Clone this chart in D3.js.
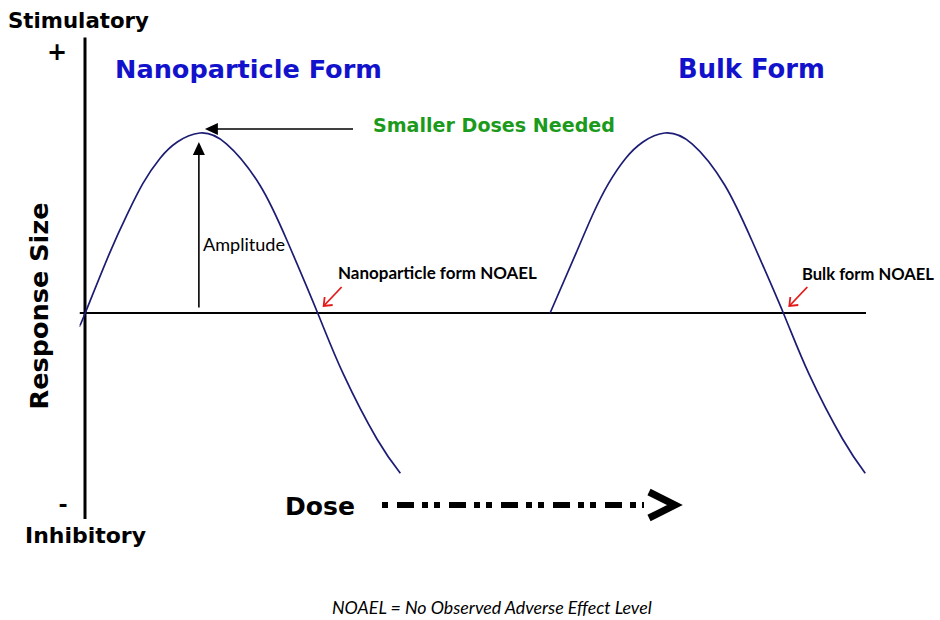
<!DOCTYPE html>
<html>
<head>
<meta charset="utf-8">
<script src="https://cdn.jsdelivr.net/npm/d3@7"></script>
<style>
  html, body { margin: 0; padding: 0; background: #fff; }
  svg { display: block; }
</style>
</head>
<body>
<svg id="chart" width="940" height="620"></svg>
<script>
// ---- Data (dose in arbitrary units, response normalised to amplitude) ----
const nanoDose = [-0.8, -0.1, 3, 5.3, 7.3, 9.5, 11.7, 14.6, 18, 22.3, 25.8, 29.7, 33, 37.3, 40.3];
const nanoResp = [-0.07, 0, 0.33, 0.55, 0.72, 0.86, 0.95, 1.0, 0.94, 0.71, 0.40, 0, -0.34, -0.70, -0.89];
const bulkDose = [59.5, 62.8, 65, 67, 69.2, 71.4, 74.2, 77.7, 81.9, 85.4, 89.4, 92.7, 97, 99.9];
const bulkResp = [0, 0.33, 0.55, 0.72, 0.86, 0.95, 1.0, 0.94, 0.71, 0.40, 0, -0.34, -0.70, -0.89];
const seriesNames = ["Nanoparticle Form", "Bulk Form"];
const noaelLabels = ["Nanoparticle form NOAEL", "Bulk form NOAEL"];
const noaelDose = [29.7, 89.4];
const peakDose = [14.6, 74.2];
const yEndLabels = ["Stimulatory", "Inhibitory"];
const ySigns = ["+", "-"];
const axisTitles = ["Response Size", "Dose"];
const annotations = ["Smaller Doses Needed", "Amplitude"];
const footnote = "NOAEL = No Observed Adverse Effect Level";

// ---- Scales ----
const x = d3.scaleLinear().domain([0, 100]).range([86, 866]);
const y = d3.scaleLinear().domain([-1, 1]).range([493, 133]);

const svg = d3.select("#chart");
svg.append("rect").attr("width", 940).attr("height", 620).attr("fill", "#fff");

const boldFont = "'DejaVu Sans', Verdana, sans-serif";
const lightFont = "Lato, 'Open Sans', sans-serif";

function fit(sel, target) {
  const fs = parseFloat(sel.attr("font-size"));
  const len = sel.node().getComputedTextLength();
  if (len > 0) sel.attr("font-size", (fs * target / len).toFixed(2));
  return sel;
}
function label(txt, px, py, opts) {
  const t = svg.append("text")
    .attr("x", px).attr("y", py)
    .attr("font-family", opts.family || boldFont)
    .attr("font-weight", opts.weight || "bold")
    .attr("font-style", opts.style || "normal")
    .attr("font-size", opts.size || 20)
    .attr("fill", opts.fill || "#000")
    .attr("text-anchor", opts.anchor || "start")
    .text(txt);
  if (opts.width) fit(t, opts.width);
  return t;
}

// ---- Axes lines ----
svg.append("line")
  .attr("x1", x(-0.8)).attr("x2", x(100))
  .attr("y1", y(0)).attr("y2", y(0))
  .attr("stroke", "#000").attr("stroke-width", 2);
svg.append("line")
  .attr("x1", x(0) - 1).attr("x2", x(0) - 1)
  .attr("y1", y(1.53)).attr("y2", y(-1.145))
  .attr("stroke", "#000").attr("stroke-width", 3);

// ---- Curves ----
const line = d3.line()
  .x(d => x(d[0])).y(d => y(d[1]))
  .curve(d3.curveNatural);
const curves = [
  d3.zip(nanoDose, nanoResp),
  d3.zip(bulkDose, bulkResp)
];
svg.selectAll("path.curve").data(curves).enter().append("path")
  .attr("class", "curve")
  .attr("d", line)
  .attr("fill", "none")
  .attr("stroke", "#1c1c74")
  .attr("stroke-width", 1.7);

// ---- Amplitude arrow (vertical) ----
const px0 = x(peakDose[0]) - 1;
svg.append("line")
  .attr("x1", px0).attr("x2", px0)
  .attr("y1", y(0.03)).attr("y2", y(0.93))
  .attr("stroke", "#000").attr("stroke-width", 1.6);
svg.append("path")
  .attr("d", `M${px0},${y(0.95)}L${px0 - 6},${y(0.95) + 13}L${px0 + 6},${y(0.95) + 13}Z`)
  .attr("fill", "#000");

// ---- "Smaller Doses Needed" arrow (horizontal) ----
const hy = y(1.0) - 4;
const hx = x(peakDose[0]) + 5;
svg.append("line")
  .attr("x1", 353).attr("x2", hx + 10)
  .attr("y1", hy).attr("y2", hy)
  .attr("stroke", "#000").attr("stroke-width", 1.6);
svg.append("path")
  .attr("d", `M${hx},${hy}L${hx + 13},${hy - 6}L${hx + 13},${hy + 6}Z`)
  .attr("fill", "#000");

// ---- NOAEL red arrows ----
noaelDose.forEach(d => {
  const tx = x(d) + 6, ty = y(0) - 7;
  svg.append("line")
    .attr("x1", tx + 18).attr("y1", ty - 19)
    .attr("x2", tx).attr("y2", ty)
    .attr("stroke", "#e41a1a").attr("stroke-width", 1.8);
  svg.append("path")
    .attr("d", `M${tx + 1},${ty - 9}L${tx},${ty}L${tx + 9},${ty - 1}`)
    .attr("fill", "none")
    .attr("stroke", "#e41a1a").attr("stroke-width", 1.8);
});

// ---- Dose dashed arrow ----
svg.append("line")
  .attr("x1", 382).attr("x2", 644)
  .attr("y1", 505).attr("y2", 505)
  .attr("stroke", "#000").attr("stroke-width", 6)
  .attr("stroke-dasharray", "17,8,6,6,6,9")
  .attr("stroke-dashoffset", 37);
svg.append("path")
  .attr("d", "M649,492L675,505L649,518")
  .attr("fill", "none")
  .attr("stroke", "#000").attr("stroke-width", 7)
  .attr("stroke-linejoin", "miter");

// ---- Text ----
label(yEndLabels[0], 8, 28, { width: 141, size: 18 });
label(yEndLabels[1], 25, 543, { width: 121, size: 18 });
label(ySigns[0], 57, 60, { size: 24, anchor: "middle" });
label(ySigns[1], 63, 512, { size: 22, anchor: "middle" });

label(seriesNames[0], 115, 78, { width: 267, size: 22, fill: "#1212cc" });
label(seriesNames[1], 678, 78, { width: 147, size: 22, fill: "#1212cc" });

label(annotations[0], 373, 132, { width: 242, size: 16, fill: "#1c9a1c" });
label(annotations[1], 203, 251, { width: 82, size: 15, family: lightFont, weight: "normal" });

label(noaelLabels[0], 338, 279, { width: 199, size: 16, family: lightFont, weight: "bold" });
label(noaelLabels[1], 802, 280, { width: 132, size: 16, family: lightFont, weight: "bold" });

const rs = svg.append("text")
  .attr("transform", "translate(48,306) rotate(-90)")
  .attr("text-anchor", "middle")
  .attr("font-family", boldFont).attr("font-weight", "bold")
  .attr("font-size", 22).attr("fill", "#000")
  .text(axisTitles[0]);
fit(rs, 207);

label(axisTitles[1], 285, 515, { width: 70, size: 24 });

label(footnote, 332, 614, { width: 320, size: 15, family: lightFont, weight: "normal", style: "italic" });
</script>
</body>
</html>
